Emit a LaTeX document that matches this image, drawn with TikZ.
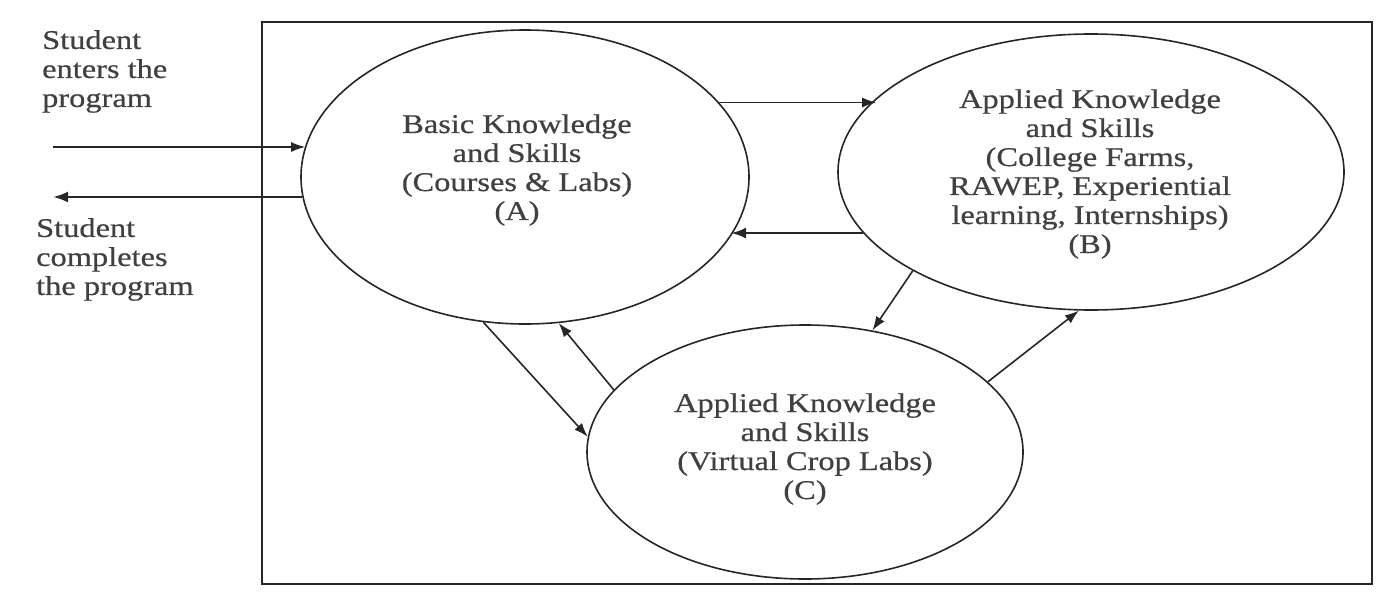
\documentclass[tikz,border=0pt]{standalone}
\usepackage{fontspec}
\setmainfont{Liberation Serif}
\newfontfamily\df[FakeStretch=1.2,FakeBold=0.6]{Liberation Serif}
\usetikzlibrary{shapes.geometric,arrows.meta}
\begin{document}
\begin{tikzpicture}[x=1pt,y=-1pt,
  bubble/.style={draw=black!85,line width=1.6pt,ellipse,inner sep=0pt},
  txt/.style={align=center,font=\df\fontsize{27}{29}\selectfont,text=black!75},
  ltxt/.style={align=left,anchor=north west,inner sep=0pt,font=\df\fontsize{27}{29}\selectfont,text=black!75},
  arr/.style={draw=black!85,line width=1.6pt,-{Latex[length=14pt,width=10pt]}},
  arrb/.style={draw=black!85,line width=2.6pt,-{Latex[length=15pt,width=11pt]}}]
\useasboundingbox (0,0) rectangle (1384,592);
\node[draw=black!85,line width=1.8pt,minimum width=1110pt,minimum height=562pt,anchor=north west,inner sep=0pt] (frame) at (261,21) {};
\node[bubble,minimum width=448pt,minimum height=294pt] (A) at (525,177) {};
\node[bubble,minimum width=506pt,minimum height=276pt] (B) at (1091,172) {};
\node[bubble,minimum width=436pt,minimum height=254pt] (C) at (805,452) {};
\node[txt] (tA) at (517,170) {Basic Knowledge\\and Skills\\(Courses \& Labs)\\(A)};
\node[txt] (tB) at (1090,174) {Applied Knowledge\\and Skills\\(College Farms,\\RAWEP, Experiential\\learning, Internships)\\(B)};
\node[txt] (tC) at (805,449) {Applied Knowledge\\and Skills\\(Virtual Crop Labs)\\(C)};
\node[ltxt] (tin) at (42,30) {Student\\enters the\\program};
\node[ltxt] (tout) at (36,218) {Student\\completes\\the program};
\coordinate (in) at (53,147);
\coordinate (out) at (53,197);
\draw[arr] (in) -- (in -| A.172);
\draw[arrb] (out -| A.185) -- (out);
\draw[arr] (A.21.7) -- (A.21.7 -| B.161.8);
\draw[arrb] (B.195.3) -- (B.195.3 -| A.344.4);
\draw[arr] (A.254.1) -- (C.176.1);
\draw[arr] (C.162.2) -- (A.283.3);
\draw[arr] (B.209.2) -- (C.61.9);
\draw[arr] (C.21.8) -- (B.265.5);
\end{tikzpicture}
\end{document}
